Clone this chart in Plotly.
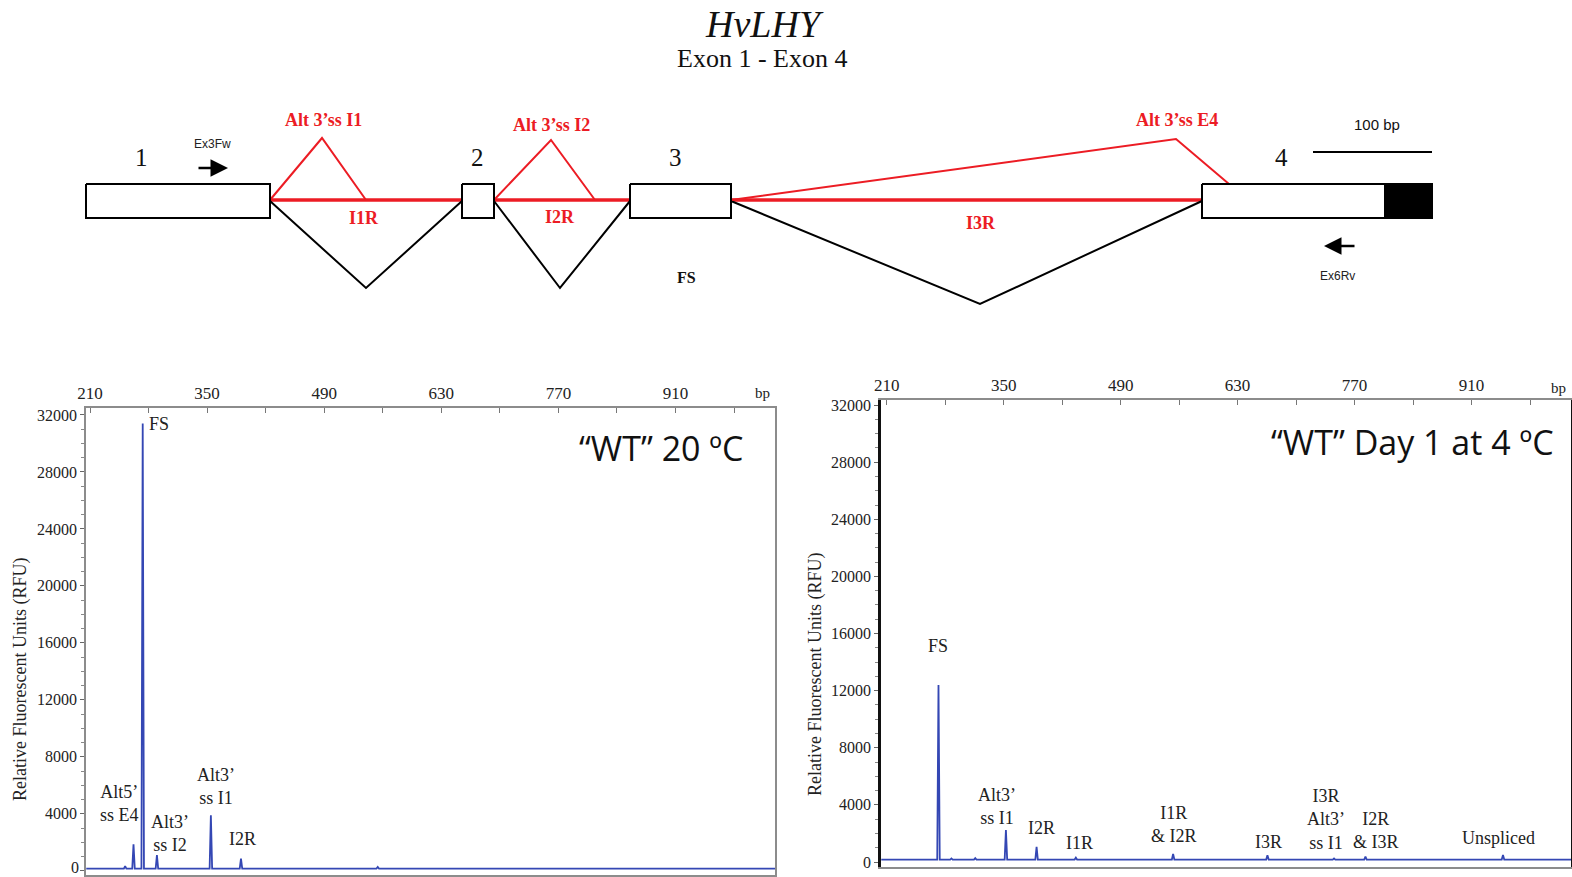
import plotly.graph_objects as go

W, H = 1572, 877
RED = "#ec1c24"
BLUE = "#3447b4"
SERIF = "Liberation Serif"
SANS = "Liberation Sans"

# ---------------- electropherogram data (fragment size in bp, signal in RFU) ----------------
wt20_peak_bp = [252, 262, 273, 290, 354.5, 390.5, 554]
wt20_peak_rfu = [330, 1850, 31400, 1100, 3900, 850, 260]
wt20_baseline = 150

day1_peak_bp = [272, 287.5, 316, 352.7, 389.4, 436.4, 552.8, 665.7, 745.4, 783, 947.6]
day1_peak_rfu = [12400, 250, 270, 2230, 1070, 300, 560, 480, 250, 380, 500]
day1_baseline = 170

wt20_labels = ["FS", "Alt5’<br>ss E4", "Alt3’<br>ss I2", "Alt3’<br>ss I1", "I2R"]
wt20_label_bp = [278.2, 245.5, 305.1, 360.5, 391.8]
wt20_label_rfu = [31370, 4720, 2620, 5910, 2226]

day1_labels = ["FS", "Alt3’<br>ss I1", "I2R", "I1R", "I1R<br>& I2R", "I3R",
               "I3R<br>Alt3’<br>ss I1", "I2R<br>& I3R", "Unspliced"]
day1_label_bp = [271.7, 342, 395.8, 441.2, 553.7, 667.3, 735.2, 795.3, 942.2]
day1_label_rfu = [15126, 3887, 2381, 1351, 2626, 1422, 3011, 2206, 1660]

size_ticks = [210, 350, 490, 630, 770, 910]
rfu_ticks = [0, 4000, 8000, 12000, 16000, 20000, 24000, 28000, 32000]

# ---------------- gene model (diagram units) ----------------
exon_x0 = [86, 462, 630, 1202]
exon_x1 = [270, 494, 731, 1432]
exon_names = ["1", "2", "3", "4"]
exon_name_x = [141, 477, 675, 1281]
utr_x0 = 1385

fs_apex_x = [366, 560, 980]
fs_apex_y = [288, 288, 304]

alt_apex_x = [322, 551, 1176]
alt_apex_y = [138, 140, 139]
alt_end_x = [366, 595, 1229]
alt_end_y = [200, 200, 184]
alt_names = ["Alt 3’ss I1", "Alt 3’ss I2", "Alt 3’ss E4"]
alt_name_xy = [(323, 120), (551, 125), (1177, 120)]

ret_names = ["I1R", "I2R", "I3R"]
ret_name_xy = [(364, 218), (560, 217), (981, 223)]


def trace_xy(peaks, heights, base, lo, hi, half=1.5):
    xs, ys = [lo], [base]
    for p, h in sorted(zip(peaks, heights)):
        xs += [p - half, p, p + half]
        ys += [base, h, base]
    xs.append(hi)
    ys.append(base)
    return xs, ys


fig = go.Figure()

# ---- gene diagram on a full-figure overlay axis ----
EX_TOP, EX_BOT, MID = 184, 218, 200
for i in range(3):
    # intron retention (red straight line)
    fig.add_trace(go.Scatter(x=[exon_x1[i], exon_x0[i + 1]], y=[MID, MID], mode="lines",
                             line=dict(color=RED, width=3.5), xaxis="x3", yaxis="y3",
                             hoverinfo="skip", showlegend=False))
    # fully spliced junction (black V)
    fig.add_trace(go.Scatter(x=[exon_x1[i], fs_apex_x[i], exon_x0[i + 1]],
                             y=[MID + 1, fs_apex_y[i], MID + 1], mode="lines",
                             line=dict(color="black", width=2), xaxis="x3", yaxis="y3",
                             hoverinfo="skip", showlegend=False))
    # alternative 3' splice sites (red peaks)
    fig.add_trace(go.Scatter(x=[exon_x1[i], alt_apex_x[i], alt_end_x[i]],
                             y=[MID, alt_apex_y[i], alt_end_y[i]], mode="lines",
                             line=dict(color=RED, width=2), xaxis="x3", yaxis="y3",
                             hoverinfo="skip", showlegend=False))

for x0, x1 in zip(exon_x0, exon_x1):
    fig.add_trace(go.Scatter(x=[x0, x1, x1, x0, x0], y=[EX_TOP, EX_TOP, EX_BOT, EX_BOT, EX_TOP],
                             mode="lines", fill="toself", fillcolor="white",
                             line=dict(color="black", width=2), xaxis="x3", yaxis="y3",
                             hoverinfo="skip", showlegend=False))
fig.add_trace(go.Scatter(x=[utr_x0, exon_x1[3], exon_x1[3], utr_x0, utr_x0],
                         y=[EX_TOP, EX_TOP, EX_BOT, EX_BOT, EX_TOP], mode="lines",
                         fill="toself", fillcolor="black", line=dict(color="black", width=2),
                         xaxis="x3", yaxis="y3", hoverinfo="skip", showlegend=False))
# scale bar
fig.add_trace(go.Scatter(x=[1313, 1432], y=[152, 152], mode="lines",
                         line=dict(color="black", width=2), xaxis="x3", yaxis="y3",
                         hoverinfo="skip", showlegend=False))

# ---- electropherograms ----
x1s, y1s = trace_xy(wt20_peak_bp, wt20_peak_rfu, wt20_baseline, 205.5, 1029)
fig.add_trace(go.Scatter(x=x1s, y=y1s, mode="lines", line=dict(color=BLUE, width=1.8),
                         xaxis="x", yaxis="y", hoverinfo="skip", showlegend=False))
x2s, y2s = trace_xy(day1_peak_bp, day1_peak_rfu, day1_baseline, 203.5, 1029)
fig.add_trace(go.Scatter(x=x2s, y=y2s, mode="lines", line=dict(color=BLUE, width=1.8),
                         xaxis="x2", yaxis="y2", hoverinfo="skip", showlegend=False))

ann = []
for t, (x, y) in zip(alt_names, alt_name_xy):
    ann.append(dict(x=x, y=y, text=f"<b>{t}</b>", font=dict(family=SERIF, size=18, color=RED)))
for t, (x, y) in zip(ret_names, ret_name_xy):
    ann.append(dict(x=x, y=y, text=f"<b>{t}</b>", font=dict(family=SERIF, size=18, color=RED)))
for t, x in zip(exon_names, exon_name_x):
    ann.append(dict(x=x, y=157, text=t, font=dict(family=SERIF, size=25, color="#111")))
ann += [
    dict(x=764, y=24, text="<i>HvLHY</i>", font=dict(family=SERIF, size=38, color="#111")),
    dict(x=762, y=58, text="Exon 1 - Exon 4", font=dict(family=SERIF, size=26, color="#111")),
    dict(x=686, y=277, text="<b>FS</b>", font=dict(family=SERIF, size=16, color="#111")),
    dict(x=1377, y=124, text="100 bp", font=dict(family=SANS, size=15, color="#111")),
    dict(x=212, y=144, text="Ex3Fw", font=dict(family=SANS, size=12, color="#222")),
    dict(x=1337, y=276, text="Ex6Rv", font=dict(family=SANS, size=12, color="#222")),
    dict(x=228, y=168, ax=197, ay=168, axref="x3", ayref="y3", text="", showarrow=True,
         arrowhead=2, arrowsize=1.4, arrowwidth=2.5, arrowcolor="black"),
    dict(x=1324, y=246, ax=1356, ay=246, axref="x3", ayref="y3", text="", showarrow=True,
         arrowhead=2, arrowsize=1.4, arrowwidth=2.5, arrowcolor="black"),
    dict(x=762, y=393, text="bp", font=dict(family=SERIF, size=15, color="#222")),
    dict(x=1558, y=388, text="bp", font=dict(family=SERIF, size=15, color="#222")),
    dict(x=20, y=680, text="Relative Fluorescent Units (RFU)", textangle=-90,
         font=dict(family=SERIF, size=18, color="#222")),
    dict(x=815, y=675, text="Relative Fluorescent Units (RFU)", textangle=-90,
         font=dict(family=SERIF, size=18, color="#222")),
    dict(x=746, y=448, xanchor="right", text="“WT” 20 ºC",
         font=dict(family="Open Sans", size=34, color="#111")),
    dict(x=1556, y=442, xanchor="right", text="“WT” Day 1 at 4 ºC",
         font=dict(family="Open Sans", size=34, color="#111")),
    # zero label of the left RFU axis, nudged so it stays inside the page
    dict(x=81, y=867, xanchor="right", text="0", font=dict(family=SERIF, size=16, color="#222")),
]
annotations = []
for a in ann:
    a.setdefault("xref", "x3")
    a.setdefault("yref", "y3")
    a.setdefault("showarrow", False)
    annotations.append(a)

for t, x, y in zip(wt20_labels, wt20_label_bp, wt20_label_rfu):
    annotations.append(dict(x=x, y=y, xref="x", yref="y", text=t, showarrow=False,
                            xanchor="left" if t == "FS" else "center", yanchor="middle",
                            font=dict(family=SERIF, size=18, color="#222")))
for t, x, y in zip(day1_labels, day1_label_bp, day1_label_rfu):
    annotations.append(dict(x=x, y=y, xref="x2", yref="y2", text=t, showarrow=False,
                            yanchor="middle", font=dict(family=SERIF, size=18, color="#222")))

tick_font = dict(family=SERIF, size=17, color="#222")
ytick_font = dict(family=SERIF, size=16, color="#222")


def xaxis_cfg(dom, rng, anchor, color):
    return dict(domain=dom, range=rng, anchor=anchor, side="top", tickvals=size_ticks,
                ticktext=[str(v) for v in size_ticks],
                ticks="inside", ticklen=5, tickcolor="#777", tickfont=tick_font,
                minor=dict(tickvals=[280, 420, 560, 700, 840, 980], ticks="inside",
                           ticklen=5, tickcolor="#777"),
                showline=True, linecolor=color, linewidth=2, mirror=True,
                showgrid=False, zeroline=False, fixedrange=True, automargin=False,
                ticklabeloverflow="allow")


def yaxis_cfg(dom, rng, anchor, color, lw, labels):
    return dict(domain=dom, range=rng, anchor=anchor, tickvals=rfu_ticks,
                ticktext=labels,
                ticks="outside", ticklen=4, tickcolor="#666", tickfont=ytick_font,
                minor=dict(dtick=1000, tick0=0, ticks="outside", ticklen=3, tickcolor="#888"),
                showline=True, linecolor=color, linewidth=lw, mirror=True,
                showgrid=False, zeroline=False, fixedrange=True, automargin=False,
                ticklabeloverflow="allow")


left_rfu_text = [str(v) if v else "" for v in rfu_ticks]
right_rfu_text = [str(v) for v in rfu_ticks]

fig.update_layout(
    width=W, height=H, margin=dict(l=0, r=0, t=0, b=0, pad=0),
    paper_bgcolor="white", plot_bgcolor="rgba(0,0,0,0)",
    xaxis=xaxis_cfg([86 / W, 775 / W], [205.2, 1029], "y", "#8c8c8c"),
    yaxis=yaxis_cfg([1 - 875 / H, 1 - 408 / H], [-300, 32490], "x", "#8c8c8c", 1.5,
                    left_rfu_text),
    xaxis2=xaxis_cfg([881 / W, 1571 / W], [203.2, 1029], "y2", "#8c8c8c"),
    yaxis2=yaxis_cfg([1 - 867 / H, 1 - 400 / H], [-350, 32353], "x2", "#111", 2.5,
                     right_rfu_text),
    xaxis3=dict(domain=[0, 1], range=[0, W], anchor="y3", visible=False, fixedrange=True,
                automargin=False),
    yaxis3=dict(domain=[0, 1], range=[H, 0], anchor="x3", visible=False, fixedrange=True,
                automargin=False),
    annotations=annotations,
)

fig.write_html("out.html")
